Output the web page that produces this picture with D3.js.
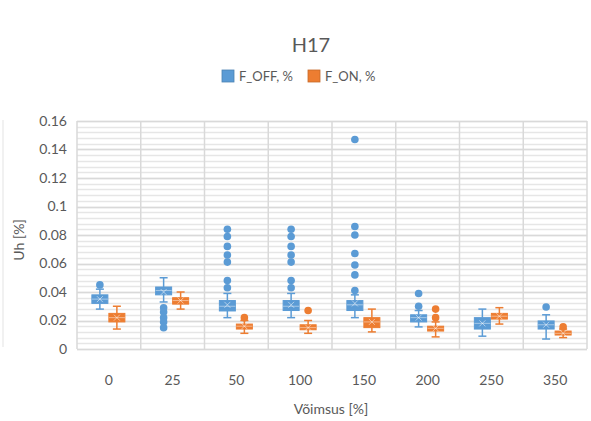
<!DOCTYPE html>
<html><head><meta charset="utf-8">
<script src="https://cdn.jsdelivr.net/npm/d3@7"></script>
<style>body{margin:0;background:#fff}svg{display:block}text{font-family:Lato,"Open Sans",sans-serif;fill:#595959}</style>
</head><body><svg id="c" width="591" height="421"></svg>
<script>
const categories = ["0","25","50","100","150","200","250","350"];
const yTicks = [0,0.02,0.04,0.06,0.08,0.1,0.12,0.14,0.16];
const seriesNames = ["F_OFF, %","F_ON, %"];
const seriesColors = ["#5b9bd5","#ed7d31"];
// F_OFF
const offMin = [0.028,0.033,0.022,0.022,0.022,0.0155,0.009,0.007];
const offQ1  = [0.032,0.038,0.0267,0.027,0.027,0.019,0.014,0.014];
const offMed = [0.035,0.041,0.030,0.030,0.031,0.022,0.018,0.017];
const offQ3  = [0.038,0.0435,0.034,0.034,0.034,0.024,0.022,0.0197];
const offMax = [0.042,0.050,0.039,0.039,0.038,0.027,0.028,0.024];
const offMean= [0.035,0.040,0.031,0.031,0.032,0.022,0.018,0.017];
const offOut = [[0.045],[0.029,0.026,0.022,0.019,0.015],[0.084,0.079,0.072,0.066,0.061,0.048,0.043],[0.084,0.079,0.072,0.066,0.061,0.048,0.043],[0.147,0.086,0.080,0.067,0.059,0.052,0.041],[0.039,0.030],[],[0.0295]];
// F_ON
const onMin = [0.014,0.028,0.011,0.011,0.012,0.0085,0.0175,0.008];
const onQ1  = [0.019,0.0315,0.014,0.0135,0.015,0.0126,0.021,0.0098];
const onMed = [0.022,0.034,0.016,0.015,0.019,0.0145,0.023,0.011];
const onQ3  = [0.025,0.036,0.0175,0.017,0.022,0.016,0.025,0.0126];
const onMax = [0.030,0.040,0.020,0.020,0.028,0.019,0.029,0.014];
const onMean= [0.022,0.034,0.016,0.015,0.019,0.0145,0.023,0.011];
const onOut = [[],[],[0.022],[0.027],[],[0.028,0.022],[],[0.0155]];

const svg = d3.select("#c");
const L=77,R=587,T=121,B=349;
const x = d3.scaleBand().domain(categories).range([L,R]).padding(0);
const y = d3.scaleLinear().domain([0,0.16]).range([B,T]);

// frame edge at left
svg.append("line").attr("x1",3).attr("x2",3).attr("y1",120).attr("y2",347).attr("stroke","#e3e3e3");

// minor gridlines
const minor = d3.range(0,0.1601,0.004);
svg.append("g").selectAll("line").data(minor).join("line")
  .attr("x1",L).attr("x2",R).attr("y1",d=>Math.round(y(d))+0.5).attr("y2",d=>Math.round(y(d))+0.5)
  .attr("stroke","#e6e6e6").attr("stroke-width",1.5);
svg.append("g").selectAll("line").data(yTicks).join("line")
  .attr("x1",L).attr("x2",R).attr("y1",d=>Math.round(y(d))+0.5).attr("y2",d=>Math.round(y(d))+0.5)
  .attr("stroke","#d9d9d9").attr("stroke-width",1.5);
// vertical category gridlines
svg.append("g").selectAll("line").data(categories.concat(["end"])).join("line")
  .attr("x1",(d,i)=>L+i*x.bandwidth()).attr("x2",(d,i)=>L+i*x.bandwidth())
  .attr("y1",T).attr("y2",B).attr("stroke","#d9d9d9").attr("stroke-width",1.5);

// y axis
const yAxis = svg.append("g").attr("transform",`translate(${L},0)`)
  .call(d3.axisLeft(y).tickValues(yTicks).tickFormat(d=>d3.format("")(+d.toFixed(2))).tickSize(0).tickPadding(10));
yAxis.select(".domain").remove();
yAxis.selectAll("text").style("font-size","14px").attr("fill","#595959").style("font-family","Lato,sans-serif");

// x axis
const xAxis = svg.append("g").attr("transform",`translate(0,${B})`)
  .call(d3.axisBottom(x).tickSize(0).tickPadding(26));
xAxis.select(".domain").remove();
xAxis.selectAll("text").style("font-size","14px").attr("fill","#595959").style("font-family","Lato,sans-serif");

const series = [
  {name:seriesNames[0],color:seriesColors[0],min:offMin,q1:offQ1,med:offMed,q3:offQ3,max:offMax,mean:offMean,out:offOut,off:-9},
  {name:seriesNames[1],color:seriesColors[1],min:onMin,q1:onQ1,med:onMed,q3:onQ3,max:onMax,mean:onMean,out:onOut,off:8}
];
const bw=16, cap=8;
series.forEach(s=>{
  const g = svg.append("g");
  categories.forEach((c,i)=>{
    const cx = x(c)+x.bandwidth()/2+s.off;
    g.append("line").attr("x1",cx).attr("x2",cx).attr("y1",y(s.max[i])).attr("y2",y(s.q3[i])).attr("stroke",s.color).attr("stroke-width",1.5);
    g.append("line").attr("x1",cx).attr("x2",cx).attr("y1",y(s.q1[i])).attr("y2",y(s.min[i])).attr("stroke",s.color).attr("stroke-width",1.5);
    [s.max[i],s.min[i]].forEach(v=>g.append("line").attr("x1",cx-cap/2).attr("x2",cx+cap/2).attr("y1",y(v)).attr("y2",y(v)).attr("stroke",s.color).attr("stroke-width",1.5));
    g.append("rect").attr("x",cx-bw/2).attr("y",y(s.q3[i])).attr("width",bw).attr("height",Math.max(1,y(s.q1[i])-y(s.q3[i])))
      .attr("fill",s.color).attr("stroke",s.color).attr("stroke-width",1);
    g.append("line").attr("x1",cx-bw/2).attr("x2",cx+bw/2).attr("y1",y(s.med[i])).attr("y2",y(s.med[i])).attr("stroke","#ffffff").attr("stroke-opacity",0.45).attr("stroke-width",1);
    const m=y(s.mean[i]), k=3;
    g.append("path").attr("d",`M${cx-k},${m-k}L${cx+k},${m+k}M${cx-k},${m+k}L${cx+k},${m-k}`).attr("stroke","#ffffff").attr("stroke-opacity",0.5).attr("stroke-width",1);
    g.selectAll(null).data(s.out[i]).join("circle").attr("cx",cx).attr("cy",d=>y(d)).attr("r",3.8).attr("fill",s.color);
  });
});

// title
svg.append("text").attr("x",311).attr("y",52).attr("text-anchor","middle").style("font-size","20px").text("H17");
// legend
const lg = svg.append("g");
[[222,240],[308,325]].forEach((p,i)=>{
  lg.append("rect").attr("x",p[0]).attr("y",70).attr("width",12).attr("height",12).attr("fill",seriesColors[i]).attr("stroke",d3.color(seriesColors[i]).darker(0.5)).attr("stroke-width",0.8);
  lg.append("text").attr("x",p[0]+17).attr("y",81).style("font-size","13px").text(seriesNames[i]);
});
// axis titles
svg.append("text").attr("transform","translate(24,240) rotate(-90)").attr("text-anchor","middle").style("font-size","14px").text("Uh [%]");
svg.append("text").attr("x",331).attr("y",414).attr("text-anchor","middle").style("font-size","14px").text("Võimsus [%]");
</script></body></html>
